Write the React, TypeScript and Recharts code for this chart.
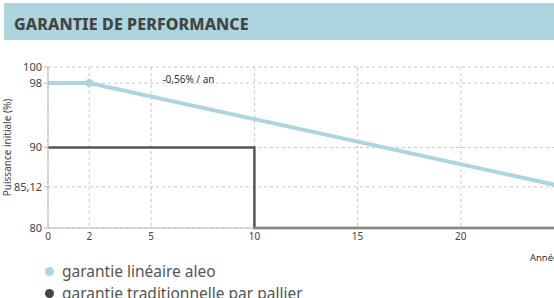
import React from "react"
import {
  LineChart,
  Line,
  CartesianGrid,
  XAxis,
  YAxis,
  ReferenceDot,
} from "recharts"

// years on the x axis
const xTicks = [0, 2, 5, 10, 15, 20]
const yTicks = [80, 85.12, 90, 98, 100]

// linear guarantee (aleo): flat 98% for 2 years then -0.56%/yr
const linearYears = [0, 2, 25]
const linearValues = [98, 98, 85.12]

// traditional step guarantee
const stepYears = [0, 10, 25]
const stepValues = [90, 80, 80]

const BLUE = "#acd5e0"
const DARK = "#555555"
const FONT = "'Noto Sans', sans-serif"

const linearData = linearYears.map((x, i) => ({ x, v: linearValues[i] }))
const stepData = stepYears.map((x, i) => ({ x, v: stepValues[i] }))

const fmt = (v: number) => String(v).replace(".", ",")

export default function App() {
  return (
    <div style={{ position: "absolute", left: 0, top: 0, width: 554, height: 298, overflow: "hidden", background: "#fff", fontFamily: FONT }}>
      <div
        style={{
          position: "absolute",
          left: 4,
          top: 3,
          width: 560,
          height: 37,
          background: BLUE,
        }}
      >
        <div style={{ position: "absolute", left: 10, top: 10, fontSize: 16, fontWeight: 800, color: "#444", letterSpacing: 0.1 }}>
          GARANTIE DE PERFORMANCE
        </div>
      </div>

      <div style={{ position: "absolute", left: 0, top: 0 }}>
        <LineChart width={600} height={298} margin={{ top: 67, right: 36, bottom: 0, left: 0 }}>
          <CartesianGrid stroke="#c8c8c8" strokeDasharray="3 3" horizontalValues={yTicks} verticalValues={xTicks} />
          <XAxis
            type="number"
            dataKey="x"
            domain={[0, 25]}
            ticks={xTicks}
            interval={0}
            allowDataOverflow
            height={70}
            stroke="#bbb"
            tickLine={false}
            tickSize={3}
            tick={{ fontSize: 10, fill: "#444", fontFamily: FONT }}
            label={{ value: "Années", position: "insideTopRight", offset: 1, dy: 25, fontSize: 9.5, fill: "#333", fontFamily: FONT }}
          />
          <YAxis
            type="number"
            domain={[80, 100]}
            ticks={yTicks}
            interval={0}
            width={48}
            stroke="#bbb"
            tickSize={4}
            tickMargin={2}
            tickFormatter={fmt}
            tick={{ fontSize: 11, fill: "#444", fontFamily: FONT }}
            label={{ value: "Puissance initiale (%)", angle: -90, position: "insideLeft", offset: 7, style: { textAnchor: "middle" }, fontSize: 10, fill: "#444", fontFamily: FONT }}
          />
          <Line
            data={stepData}
            dataKey="v"
            type="stepAfter"
            stroke={DARK}
            strokeWidth={2.5}
            dot={false}
            isAnimationActive={false}
          />
          <Line
            data={linearData}
            dataKey="v"
            type="linear"
            stroke={BLUE}
            strokeWidth={4}
            dot={(p: any) =>
              p.index === 1 ? <circle key={p.index} cx={p.cx} cy={p.cy} r={4} fill={BLUE} /> : <g key={p.index} />
            }
            isAnimationActive={false}
          />
          <ReferenceDot
            x={5.3}
            y={98.5}
            r={0}
            label={{ value: "-0,56% / an", position: "right", fontSize: 10, fill: "#333", fontFamily: FONT }}
          />
        </LineChart>
      </div>

      <div style={{ position: "absolute", left: 45, top: 260, fontSize: 15.5, color: DARK, lineHeight: "22px" }}>
        <div style={{ display: "flex", alignItems: "center" }}>
          <span style={{ width: 9, height: 9, borderRadius: 5, background: BLUE, marginRight: 8 }} />
          garantie linéaire aleo
        </div>
        <div style={{ display: "flex", alignItems: "center" }}>
          <span style={{ width: 9, height: 9, borderRadius: 5, background: "#444", marginRight: 8 }} />
          garantie traditionnelle par pallier
        </div>
      </div>
    </div>
  )
}
